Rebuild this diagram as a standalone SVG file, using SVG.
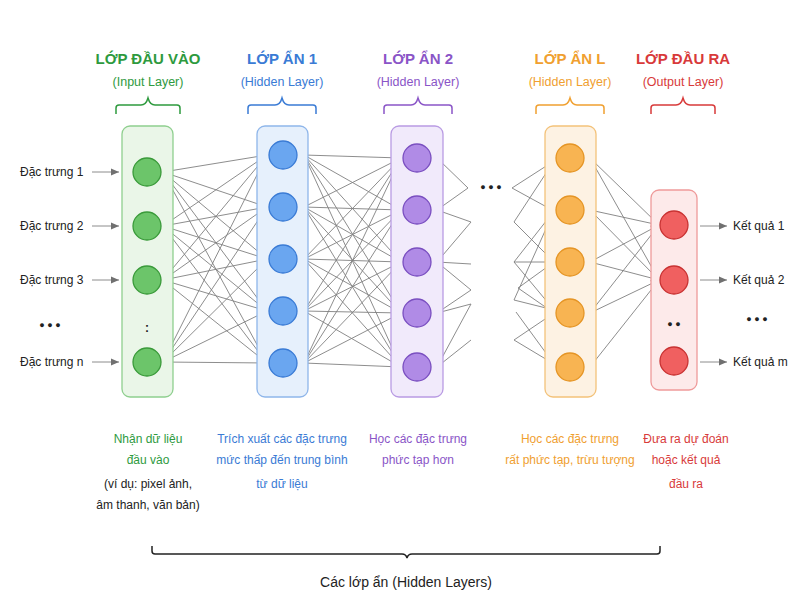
<svg xmlns="http://www.w3.org/2000/svg" width="800" height="600" viewBox="0 0 800 600">
<defs>
<marker id="ah" markerWidth="9" markerHeight="9" refX="8" refY="4.5" orient="auto" markerUnits="userSpaceOnUse"><path d="M0,1 L8,4.5 L0,8 Z" fill="#707070"/></marker>
<style>
text{font-family:"Liberation Sans",Arial,sans-serif}
.t{font-size:15px;font-weight:bold;text-anchor:middle}
.s{font-size:12.5px;text-anchor:middle}
.d{font-size:12px;text-anchor:middle}
.lbl{font-size:12px;fill:#222}
.dots{font-size:9px;fill:#222;text-anchor:middle}
.c path{stroke:#808080;stroke-width:0.9;fill:none}
.ca path{stroke:#808080;stroke-width:0.9;fill:none;marker-end:url(#ah)}
.br{fill:none;stroke-width:1.5}
</style>
</defs>
<rect width="800" height="600" fill="#fff"/>
<g id="connectors">
<g class="ca">
<path d="M163,172 L267,155"/><path d="M163,172 L267,207"/><path d="M163,172 L267,259"/><path d="M163,172 L267,311"/><path d="M163,172 L267,363"/>
<path d="M163,226 L267,155"/><path d="M163,226 L267,207"/><path d="M163,226 L267,259"/><path d="M163,226 L267,311"/><path d="M163,226 L267,363"/>
<path d="M163,280 L267,155"/><path d="M163,280 L267,207"/><path d="M163,280 L267,259"/><path d="M163,280 L267,311"/><path d="M163,280 L267,363"/>
<path d="M163,362 L267,155"/><path d="M163,362 L267,207"/><path d="M163,362 L267,259"/><path d="M163,362 L267,311"/><path d="M163,362 L267,363"/>
</g>
<g class="ca">
<path d="M304,155 L401,158"/><path d="M304,155 L401,210"/><path d="M304,155 L401,262"/><path d="M304,155 L401,313"/><path d="M304,155 L401,367"/>
<path d="M304,207 L401,158"/><path d="M304,207 L401,210"/><path d="M304,207 L401,262"/><path d="M304,207 L401,313"/><path d="M304,207 L401,367"/>
<path d="M304,259 L401,158"/><path d="M304,259 L401,210"/><path d="M304,259 L401,262"/><path d="M304,259 L401,313"/><path d="M304,259 L401,367"/>
<path d="M304,311 L401,158"/><path d="M304,311 L401,210"/><path d="M304,311 L401,262"/><path d="M304,311 L401,313"/><path d="M304,311 L401,367"/>
<path d="M304,363 L401,158"/><path d="M304,363 L401,210"/><path d="M304,363 L401,262"/><path d="M304,363 L401,313"/><path d="M304,363 L401,367"/>
</g>
<g class="c">
<path d="M437,158 L468,188"/><path d="M437,210 L468,188"/><path d="M437,210 L471,222"/><path d="M437,262 L471,222"/><path d="M437,262 L471,264"/><path d="M437,262 L471,290"/><path d="M437,313 L471,290"/><path d="M437,313 L471,304"/><path d="M437,367 L471,340"/><path d="M437,367 L471,304"/>
</g>
<g class="ca">
<path d="M512,188 L554,161"/><path d="M512,188 L554,211"/><path d="M514,222 L554,161"/><path d="M514,222 L554,262"/><path d="M514,262 L554,211"/><path d="M514,262 L554,262"/><path d="M514,262 L554,310"/><path d="M518,288 L554,262"/><path d="M518,288 L554,313"/><path d="M514,300 L554,211"/><path d="M514,300 L554,310"/><path d="M514,340 L554,313"/><path d="M514,340 L554,364"/><path d="M516,312 L554,364"/>
</g>
<g class="ca">
<path d="M590,158 L659,225"/><path d="M590,158 L659,280"/><path d="M590,210 L659,225"/><path d="M590,210 L659,280"/><path d="M590,262 L659,225"/><path d="M590,262 L659,280"/><path d="M590,313 L659,225"/><path d="M590,313 L659,280"/><path d="M590,367 L659,280"/>
</g>
<g class="ca">
<path d="M92,172 L119,172"/><path d="M92,226 L119,226"/><path d="M92,280 L119,280"/><path d="M92,362 L119,362"/>
<path d="M700,226 L727,226"/><path d="M700,280 L727,280"/><path d="M700,362 L727,362"/>
</g>
</g>
<g id="input">
<text class="t" x="148" y="64" fill="#2e9a3e">LỚP ĐẦU VÀO</text>
<text class="s" x="148" y="86" fill="#2e9a3e">(Input Layer)</text>
<path class="br" stroke="#2e9a3e" d="M116,114 v-6 q0,-3 3,-3 h22 q5,0 7,-7 q2,7 7,7 h22 q3,0 3,3 v6"/>
<rect x="122" y="126" width="51" height="271" rx="8" fill="#eaf6e8" stroke="#8fcf8f" stroke-width="1.3"/>
<g fill="#6cc56a" stroke="#3a9a3a" stroke-width="1.3">
<circle cx="147" cy="172" r="14"/><circle cx="147" cy="226" r="14"/><circle cx="147" cy="280" r="14"/><circle cx="147" cy="362" r="14"/>
</g>
<text x="147" y="332" class="d" font-size="16" font-weight="bold" fill="#222">:</text>
<text class="dots" x="50" y="328">● ● ●</text>
<text class="lbl" x="20" y="176">Đặc trưng 1</text>
<text class="lbl" x="20" y="230">Đặc trưng 2</text>
<text class="lbl" x="20" y="284">Đặc trưng 3</text>
<text class="lbl" x="20" y="366">Đặc trưng n</text>
<text class="d" x="148" y="443" fill="#2e9a3e">Nhận dữ liệu</text>
<text class="d" x="148" y="464" fill="#2e9a3e">đầu vào</text>
<text class="d" x="148" y="488" fill="#222">(ví dụ: pixel ảnh,</text>
<text class="d" x="148" y="509" fill="#222">âm thanh, văn bản)</text>
</g>
<g id="hidden1">
<text class="t" x="282" y="64" fill="#3a7bd5">LỚP ẨN 1</text>
<text class="s" x="282" y="86" fill="#3a7bd5">(Hidden Layer)</text>
<path class="br" stroke="#3a7bd5" d="M248,114 v-6 q0,-3 3,-3 h24 q5,0 7,-7 q2,7 7,7 h24 q3,0 3,3 v6"/>
<rect x="257" y="126" width="51" height="271" rx="8" fill="#e6f0fc" stroke="#8fb6ea" stroke-width="1.3"/>
<g fill="#6aa6f0" stroke="#3a7bd5" stroke-width="1.3">
<circle cx="283" cy="155" r="14"/><circle cx="283" cy="207" r="14"/><circle cx="283" cy="259" r="14"/><circle cx="283" cy="311" r="14"/><circle cx="283" cy="363" r="14"/>
</g>
<text class="d" x="282" y="443" fill="#3a7bd5">Trích xuất các đặc trưng</text>
<text class="d" x="282" y="464" fill="#3a7bd5">mức thấp đến trung bình</text>
<text class="d" x="282" y="488" fill="#3a7bd5">từ dữ liệu</text>
</g>
<g id="hidden2">
<text class="t" x="418" y="64" fill="#8a55c7">LỚP ẨN 2</text>
<text class="s" x="418" y="86" fill="#8a55c7">(Hidden Layer)</text>
<path class="br" stroke="#8a55c7" d="M384,114 v-6 q0,-3 3,-3 h24 q5,0 7,-7 q2,7 7,7 h24 q3,0 3,3 v6"/>
<rect x="391" y="126" width="52" height="271" rx="8" fill="#f1eafb" stroke="#b99be3" stroke-width="1.3"/>
<g fill="#b08be6" stroke="#7a4fc0" stroke-width="1.3">
<circle cx="417" cy="158" r="14"/><circle cx="417" cy="210" r="14"/><circle cx="417" cy="262" r="14"/><circle cx="417" cy="313" r="14"/><circle cx="417" cy="367" r="14"/>
</g>
<text class="d" x="418" y="443" fill="#8a55c7">Học các đặc trưng</text>
<text class="d" x="418" y="464" fill="#8a55c7">phức tạp hơn</text>
</g>
<text class="dots" x="491" y="190" font-size="10">● ● ●</text>
<g id="hiddenL">
<text class="t" x="570" y="64" fill="#f0a030">LỚP ẨN L</text>
<text class="s" x="570" y="86" fill="#f0a030">(Hidden Layer)</text>
<path class="br" stroke="#f0a030" d="M536,114 v-6 q0,-3 3,-3 h24 q5,0 7,-7 q2,7 7,7 h24 q3,0 3,3 v6"/>
<rect x="545" y="126" width="51" height="271" rx="8" fill="#fdf2e3" stroke="#f3c27a" stroke-width="1.3"/>
<g fill="#f8b452" stroke="#e59525" stroke-width="1.3">
<circle cx="570" cy="158" r="14"/><circle cx="570" cy="210" r="14"/><circle cx="570" cy="262" r="14"/><circle cx="570" cy="313" r="14"/><circle cx="570" cy="367" r="14"/>
</g>
<text class="d" x="570" y="443" fill="#f0a030">Học các đặc trưng</text>
<text class="d" x="570" y="464" fill="#f0a030">rất phức tạp, trừu tượng</text>
</g>
<g id="output">
<text class="t" x="683" y="64" fill="#d83a3a">LỚP ĐẦU RA</text>
<text class="s" x="683" y="86" fill="#d83a3a">(Output Layer)</text>
<path class="br" stroke="#d83a3a" d="M651,114 v-6 q0,-3 3,-3 h22 q5,0 7,-7 q2,7 7,7 h22 q3,0 3,3 v6"/>
<rect x="651" y="190" width="46" height="200" rx="8" fill="#fdeaea" stroke="#ef9a9a" stroke-width="1.3"/>
<g fill="#f06060" stroke="#c83232" stroke-width="1.3">
<circle cx="674" cy="225" r="14"/><circle cx="674" cy="280" r="14"/><circle cx="674" cy="361" r="14"/>
</g>
<text class="dots" x="674" y="327" font-size="6">● ●</text>
<text class="lbl" x="733" y="230">Kết quả 1</text>
<text class="lbl" x="733" y="284">Kết quả 2</text>
<text class="dots" x="757" y="322">● ● ●</text>
<text class="lbl" x="733" y="366">Kết quả m</text>
<text class="d" x="686" y="443" fill="#d83a3a">Đưa ra dự đoán</text>
<text class="d" x="686" y="464" fill="#d83a3a">hoặc kết quả</text>
<text class="d" x="686" y="488" fill="#d83a3a">đầu ra</text>
</g>
<g id="hidden-brace">
<path class="br" stroke="#222" stroke-width="1.2" d="M152,546 v5 q0,3 3,3 h247 q4,0 5,4 q1,-4 5,-4 h245 q3,0 3,-3 v-5"/>
<text x="406" y="587" font-size="14" text-anchor="middle" fill="#222">Các lớp ẩn (Hidden Layers)</text>
</g>
</svg>
